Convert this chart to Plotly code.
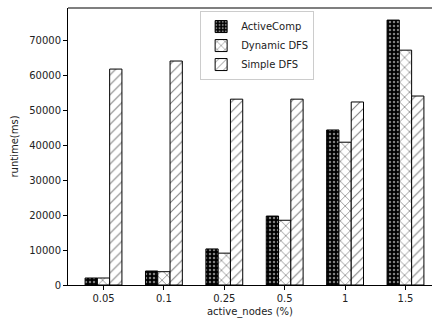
import plotly.graph_objects as go

categories = ["0.05", "0.1", "0.25", "0.5", "1", "1.5"]
active_comp = [2000, 4000, 10300, 19700, 44300, 75700]
dynamic_dfs = [2000, 3800, 9100, 18500, 40800, 67100]
simple_dfs = [61700, 64000, 53100, 53100, 52300, 54000]
y_ticks = [0, 10000, 20000, 30000, 40000, 50000, 60000, 70000]

xpos = list(range(len(categories)))
font = dict(family="DejaVu Sans", size=10, color="#222")

fig = go.Figure()
fig.add_trace(go.Bar(
    x=xpos, y=active_comp, name="ActiveComp",
    marker=dict(color="black", line=dict(color="black", width=1),
                pattern=dict(shape=".", fgcolor="white", bgcolor="black", size=4, solidity=0.3)),
))
fig.add_trace(go.Bar(
    x=xpos, y=dynamic_dfs, name="Dynamic DFS",
    marker=dict(color="white", line=dict(color="black", width=1),
                pattern=dict(shape="x", fgcolor="black", bgcolor="white", size=7, solidity=0.2)),
))
fig.add_trace(go.Bar(
    x=xpos, y=simple_dfs, name="Simple DFS",
    marker=dict(color="white", line=dict(color="black", width=1),
                pattern=dict(shape="/", fgcolor="black", bgcolor="white", size=7, solidity=0.15)),
))

fig.add_shape(type="line", xref="paper", yref="paper", x0=0, x1=1.01, y0=1, y1=1,
              line=dict(color="#555", width=1.5))

fig.update_layout(
    width=432, height=323,
    margin=dict(l=68, r=0, t=8, b=38),
    paper_bgcolor="white", plot_bgcolor="white",
    barmode="group", bargap=0.39, bargroupgap=0,
    font=font,
    showlegend=True,
    legend=dict(x=0.363, y=0.989, xanchor="left", yanchor="top",
                bgcolor="white", bordercolor="#ccc", borderwidth=1,
                font=dict(family="DejaVu Sans", size=10, color="#222"),
                tracegroupgap=0, itemwidth=30),
    xaxis=dict(
        range=[-0.588, 5.439], tickmode="array", tickvals=xpos, ticktext=categories,
        showgrid=False, zeroline=False, showline=True, linecolor="black", linewidth=1,
        ticks="outside", ticklen=4, tickcolor="black",
        title=dict(text="active_nodes (%)", standoff=4, font=font),
    ),
    yaxis=dict(
        range=[0, 79150], tickmode="array", tickvals=y_ticks,
        ticktext=[str(v) for v in y_ticks],
        showgrid=False, zeroline=False, showline=True, linecolor="black", linewidth=1,
        ticks="outside", ticklen=4, tickcolor="black",
        title=dict(text="runtime(ms)", standoff=8, font=font),
    ),
)

fig.write_html("out.html")
